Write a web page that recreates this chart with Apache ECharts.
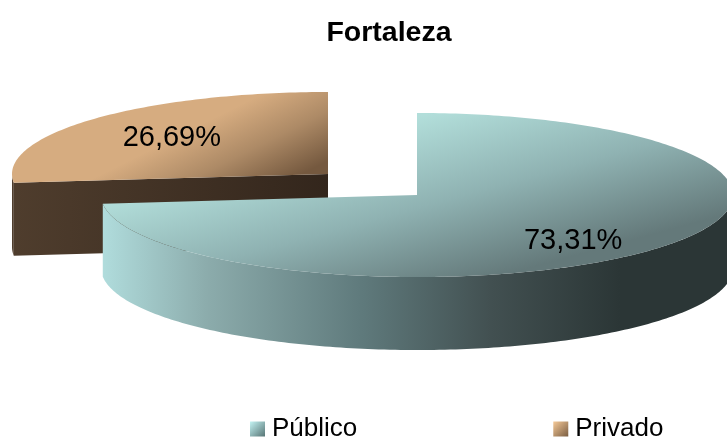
<!DOCTYPE html>
<html>
<head>
<meta charset="utf-8">
<style>
  html, body { margin: 0; padding: 0; background: #fff; }
  #chart { width: 727px; height: 438px; }
</style>
<script src="https://cdn.jsdelivr.net/npm/echarts@6/dist/echarts.min.js"></script>
</head>
<body>
<div id="chart"></div>
<script>
const categories = ['Público', 'Privado']
const values = [73.31, 26.69]

const font = '"Liberation Sans", Arial, sans-serif'
const rx = 316
const ry = 82
const depth = 73

function grad(x0, y0, x1, y1, stops, global) {
  return new echarts.graphic.LinearGradient(
    x0, y0, x1, y1,
    stops.map((s) => ({ offset: s[0], color: s[1] })),
    global
  )
}

// the look of each slice: exploded centre, faces, label nudge
const looks = [
  {
    cx: 417, cy: 195, labelDy: 9,
    top: grad(417, 117, 463, 286, [[0, '#b2deda'], [0.5, '#8fb2b2'], [1, '#64797a']], true),
    wall: grad(103, 0, 620, 0, [[0, '#b0dcdc'], [0.2, '#8cacac'], [0.5, '#5f7a7c'], [0.75, '#425051'], [1, '#2b3636']], true),
    cut: '#7f9f9f',
    legend: grad(0, 0, 1, 1, [[0, '#c4f4f4'], [1, '#577474']])
  },
  {
    cx: 328, cy: 174, labelDy: 1,
    top: grad(250, 100, 290, 180, [[0, '#d6ac80'], [0.5, '#ad8a66'], [1, '#75593f']], true),
    wall: grad(13, 0, 328, 0, [[0, '#4f3d2d'], [1, '#33261c']], true),
    cut: grad(13, 0, 328, 0, [[0, '#4f3d2d'], [1, '#33261c']], true),
    legend: grad(0, 0, 1, 1, [[0, '#f6ca98'], [1, '#7a5d42']])
  }
]

const total = values.reduce((a, b) => a + b, 0)

// angle is clockwise from 12 o'clock, as the original chart starts there
function pt(look, deg, drop) {
  const a = deg * Math.PI / 180
  return [look.cx + rx * Math.sin(a), look.cy - ry * Math.cos(a) + (drop || 0)]
}

function arc(look, from, to, drop) {
  const pts = []
  const n = Math.max(2, Math.ceil(Math.abs(to - from)))
  for (let i = 0; i <= n; i++) {
    pts.push(pt(look, from + (to - from) * i / n, drop))
  }
  return pts
}

function sliceItem(index, value, startDeg) {
  const look = looks[index]
  const endDeg = startDeg + value / total * 360
  const children = []

  // cut face at the start of the slice, only if it looks toward us
  if (Math.sin(startDeg * Math.PI / 180) < 0) {
    const c = [look.cx, look.cy]
    const e = pt(look, startDeg)
    children.push({
      type: 'polygon',
      shape: { points: [c, e, [e[0], e[1] + depth], [c[0], c[1] + depth]] },
      style: { fill: look.cut }
    })
  }

  // outer wall, the front half of the ellipse only
  const wFrom = Math.max(startDeg, 90)
  const wTo = Math.min(endDeg, 270)
  if (wTo > wFrom) {
    children.push({
      type: 'polygon',
      shape: { points: arc(look, wFrom, wTo, 0).concat(arc(look, wTo, wFrom, depth)) },
      style: { fill: look.wall }
    })
  }

  children.push({
    type: 'polygon',
    shape: { points: [[look.cx, look.cy]].concat(arc(look, startDeg, endDeg, 0)) },
    style: { fill: look.top }
  })

  const mid = (startDeg + endDeg) / 2 * Math.PI / 180
  children.push({
    type: 'text',
    z2: 10,
    style: {
      x: look.cx + 210 * Math.sin(mid),
      y: look.cy - ry * 0.67 * Math.cos(mid) + look.labelDy,
      text: value.toFixed(2).replace('.', ',') + '%',
      font: '29px ' + font,
      fill: '#000',
      align: 'center',
      verticalAlign: 'middle'
    }
  })
  return { type: 'group', children }
}

const chart = echarts.init(document.getElementById('chart'), null, { renderer: 'canvas' })

let running = 0
const series = categories.map((name, i) => {
  const start = running
  running += values[i] / total * 360
  return {
    type: 'custom',
    name,
    coordinateSystem: 'none',
    // the exploded back slice has to sit under the front one
    z: categories.length - i,
    silent: true,
    animation: false,
    itemStyle: { color: looks[i].legend },
    data: [[values[i]]],
    renderItem: (params, api) => sliceItem(i, api.value(0), start)
  }
})

chart.setOption({
  animation: false,
  backgroundColor: '#fff',
  title: {
    text: 'Fortaleza',
    left: 389,
    top: 14,
    textAlign: 'center',
    textStyle: { fontFamily: font, fontSize: 28.5, fontWeight: 'bold', color: '#000' }
  },
  legend: {
    left: 250,
    top: 416,
    padding: 0,
    itemWidth: 15,
    itemHeight: 15,
    itemGap: 196,
    icon: 'rect',
    selectedMode: false,
    textStyle: { fontFamily: font, fontSize: 26, color: '#000', padding: [0, 0, 0, 2] },
    data: categories.map((name, i) => ({ name, itemStyle: { color: looks[i].legend } }))
  },
  series
})

// the title's textAlign leaves it 5px right of where it sits in the original
chart.setOption({ title: { left: 384 } })
</script>
</body>
</html>
